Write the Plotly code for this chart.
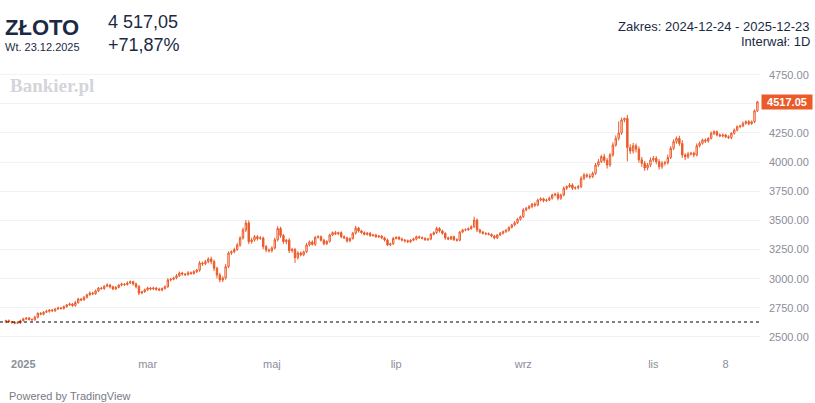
import pandas as pd
import plotly.graph_objects as go

# daily candles, 2024-12-24 .. 2025-12-23
base_price = 2628.3
closes = [
    2640, 2632, 2625, 2618, 2622, 2640, 2655, 2662, 2650, 2648,
    2670, 2703, 2695, 2712, 2720, 2731, 2725, 2740, 2748, 2745,
    2760, 2775, 2783, 2770, 2795, 2826, 2818, 2840, 2862, 2877,
    2870, 2895, 2920, 2915, 2935, 2946, 2930, 2912, 2925, 2945,
    2954, 2950, 2963, 2974, 2955, 2931, 2877, 2888, 2905, 2920,
    2912, 2920, 2910, 2903, 2915, 2931, 2989, 2995, 3006, 3025,
    3049, 3040, 3035, 3051, 3045, 3060, 3074, 3134, 3128, 3146,
    3169, 3146, 3090, 3032, 2989, 3006, 3103, 3220, 3231, 3250,
    3289, 3349, 3418, 3478, 3317, 3332, 3360, 3345, 3349, 3275,
    3246, 3240, 3263, 3334, 3430, 3370, 3317, 3330, 3240, 3250,
    3180, 3220, 3205, 3230, 3290, 3315, 3295, 3355, 3360, 3330,
    3300, 3320, 3375, 3395, 3385, 3395, 3360, 3350, 3325, 3345,
    3390, 3435, 3410, 3395, 3380, 3390, 3370, 3375, 3360, 3365,
    3350, 3332, 3290, 3300, 3345, 3355, 3340, 3332, 3325, 3317,
    3330, 3340, 3360, 3352, 3346, 3335, 3340, 3380, 3395, 3430,
    3410, 3389, 3350, 3340, 3360, 3335, 3330, 3400, 3418, 3420,
    3430, 3446, 3503, 3418, 3400, 3389, 3385, 3380, 3366, 3350,
    3375, 3390, 3403, 3415, 3440, 3461, 3480, 3510, 3532, 3590,
    3604, 3618, 3640, 3632, 3675, 3685, 3670, 3675, 3690, 3718,
    3724, 3690, 3718, 3776, 3790, 3804, 3776, 3780, 3790, 3861,
    3890, 3880, 3875, 3904, 3975, 4004, 4047, 4015, 3975, 4061,
    4147, 4204, 4250, 4362, 4376, 4125, 4095, 4140, 4112, 4020,
    3990, 3950, 3975, 4018, 4033, 4004, 3961, 3990, 3995, 4040,
    4119, 4176, 4204, 4160, 4061, 4045, 4070, 4076, 4061, 4140,
    4162, 4190, 4180, 4204, 4247, 4261, 4233, 4225, 4233, 4218,
    4210, 4247, 4275, 4304, 4310, 4333, 4347, 4330, 4347, 4440,
    4517.05,
]
wick_up = [
    8, 10, 6, 9, 12, 8, 10, 7, 11, 9,
    12, 8, 10, 9, 14, 7, 10, 8, 12, 9,
    10, 7, 12, 9, 15, 10, 8, 12, 9, 14,
    10, 12, 8, 11, 9, 15, 8, 10, 12, 9,
    11, 8, 14, 10, 9, 12, 15, 8, 10, 12,
    9, 11, 8, 13, 10, 12, 15, 9, 11, 14,
    12, 10, 9, 14, 11, 13, 10, 18, 12, 15,
    14, 20, 16, 12, 18, 15, 22, 14, 12, 16,
    18, 15, 20, 25, 22, 18, 15, 14, 16, 12,
    14, 12, 15, 18, 20, 16, 14, 12, 18, 15,
    14, 16, 12, 10, 15, 12, 14, 10, 12, 11,
    13, 9, 12, 10, 14, 8, 11, 12, 10, 9,
    12, 18, 10, 9, 11, 10, 12, 8, 10, 9,
    11, 10, 12, 9, 14, 8, 10, 12, 9, 11,
    8, 12, 10, 9, 11, 10, 9, 12, 10, 16,
    12, 10, 9, 11, 8, 10, 12, 9, 10, 11,
    10, 12, 29, 14, 11, 10, 9, 12, 8, 10,
    9, 11, 10, 12, 8, 10, 14, 12, 10, 15,
    12, 14, 10, 16, 12, 14, 10, 12, 15, 11,
    14, 18, 12, 15, 10, 16, 14, 12, 15, 18,
    16, 14, 20, 15, 18, 22, 16, 25, 20, 18,
    22, 25, 100, 20, 5, 30, 28, 25, 20, 22,
    25, 20, 18, 22, 20, 18, 22, 20, 16, 25,
    18, 20, 16, 22, 28, 15, 18, 12, 14, 20,
    15, 12, 14, 10, 16, 12, 10, 14, 12, 10,
    12, 10, 14, 12, 10, 16, 12, 14, 10, 12,
    8,
]
wick_dn = [
    10, 8, 12, 9, 7, 10, 8, 11, 9, 12,
    9, 11, 8, 10, 7, 12, 9, 10, 8, 11,
    10, 9, 8, 12, 10, 9, 11, 8, 10, 9,
    12, 8, 10, 9, 11, 8, 14, 10, 9, 8,
    10, 12, 9, 8, 14, 15, 18, 10, 9, 11,
    12, 10, 14, 9, 11, 8, 10, 12, 9, 11,
    10, 14, 12, 9, 13, 10, 12, 15, 18, 12,
    14, 22, 25, 30, 20, 18, 15, 12, 16, 14,
    12, 15, 14, 18, 20, 16, 14, 18, 12, 22,
    18, 15, 16, 12, 14, 20, 18, 22, 20, 18,
    45, 16, 14, 12, 10, 14, 12, 16, 10, 12,
    14, 12, 10, 9, 11, 12, 14, 10, 16, 12,
    10, 12, 14, 10, 9, 11, 12, 10, 9, 11,
    12, 14, 10, 12, 11, 9, 10, 12, 14, 10,
    11, 9, 12, 10, 9, 11, 12, 10, 9, 12,
    14, 12, 16, 10, 9, 11, 12, 9, 10, 11,
    9, 10, 12, 18, 14, 10, 12, 9, 11, 12,
    10, 9, 11, 10, 12, 9, 10, 11, 12, 10,
    12, 10, 14, 18, 11, 13, 15, 12, 10, 11,
    12, 18, 14, 12, 15, 11, 16, 12, 14, 12,
    14, 16, 18, 12, 14, 16, 12, 20, 30, 16,
    14, 15, 18, 16, 20, 120, 25, 22, 30, 25,
    30, 25, 20, 18, 16, 22, 25, 18, 20, 16,
    14, 16, 18, 20, 25, 28, 16, 14, 20, 12,
    14, 12, 16, 12, 10, 14, 12, 10, 14, 12,
    12, 14, 10, 12, 14, 10, 12, 14, 10, 12,
    10,
]

month_ticks = ["2025-01-01", "2025-03-03", "2025-05-01", "2025-07-01",
               "2025-09-01", "2025-11-03", "2025-12-08"]
month_labels = ["<b>2025</b>", "mar", "maj", "lip", "wrz", "lis", "8"]
price_ticks = [2500, 2750, 3000, 3250, 3500, 3750, 4000, 4250, 4500, 4750]

dates = pd.bdate_range("2024-12-24", periods=len(closes)).strftime("%Y-%m-%d").tolist()
opens = [base_price] + closes[:-1]
highs = [max(o, c) + w for o, c, w in zip(opens, closes, wick_up)]
lows = [min(o, c) - w for o, c, w in zip(opens, closes, wick_dn)]

ORANGE = "#eb5a29"
GRAY = "#8a8e99"
NAVY = "#1b2a44"

# 4500.00 sits under the last-price label, so its text is left empty
price_labels = ["" if v == 4500 else f"{v:.2f}" for v in price_ticks]

fig = go.Figure()
fig.add_trace(go.Candlestick(
    x=dates, open=opens, high=highs, low=lows, close=closes,
    increasing=dict(line=dict(color=ORANGE, width=1), fillcolor="white"),
    decreasing=dict(line=dict(color=ORANGE, width=1), fillcolor=ORANGE),
    whiskerwidth=0,
    hoverinfo="skip",
    showlegend=False,
))

# baseline: close before the range
fig.add_shape(type="line", xref="paper", x0=0, x1=1, yref="y", y0=base_price, y1=base_price,
              line=dict(color="black", width=1, dash="dot"))

# header
fig.add_annotation(text="<b>ZŁOTO</b>", xref="paper", yref="paper", x=0, y=1, xanchor="left", yanchor="middle",
                   xshift=3, yshift=-27 + 62, showarrow=False, font=dict(size=22, color=NAVY, family="Liberation Sans"))
fig.add_annotation(text="Wt. 23.12.2025", xref="paper", yref="paper", x=0, y=1, xanchor="left", yanchor="middle",
                   xshift=3, yshift=-47 + 62, showarrow=False, font=dict(size=11, color=NAVY, family="Liberation Sans"))
fig.add_annotation(text="4 517,05", xref="paper", yref="paper", x=0, y=1, xanchor="left", yanchor="middle",
                   xshift=106, yshift=-22 + 62, showarrow=False, font=dict(size=18, color=NAVY, family="Liberation Sans"))
fig.add_annotation(text="+71,87%", xref="paper", yref="paper", x=0, y=1, xanchor="left", yanchor="middle",
                   xshift=106, yshift=-45 + 62, showarrow=False, font=dict(size=18, color=NAVY, family="Liberation Sans"))
fig.add_annotation(text="Zakres: 2024-12-24 - 2025-12-23", xref="paper", yref="paper", x=1, y=1,
                   xanchor="right", yanchor="middle", xshift=55 - 3, yshift=-26 + 62, showarrow=False,
                   font=dict(size=13, color=NAVY, family="Liberation Sans"))
fig.add_annotation(text="Interwał: 1D", xref="paper", yref="paper", x=1, y=1,
                   xanchor="right", yanchor="middle", xshift=55 - 3, yshift=-41 + 62, showarrow=False,
                   font=dict(size=13, color=NAVY, family="Liberation Sans"))

# watermark
fig.add_annotation(text="<b>Bankier.pl</b>", xref="paper", yref="paper", x=0, y=1, xanchor="left", yanchor="middle",
                   xshift=8, yshift=-85 + 62, showarrow=False,
                   font=dict(size=19, color="#d3d5db", family="Liberation Serif"))

# last price label
fig.add_annotation(text="<b>4517.05</b>", xref="paper", yref="y", x=1, y=closes[-1], xanchor="left", yanchor="middle",
                   xshift=1, showarrow=False, bgcolor=ORANGE, width=50, height=14, borderpad=0,
                   font=dict(size=11, color="white", family="Liberation Sans"))

fig.add_annotation(text="Powered by TradingView", xref="paper", yref="paper", x=0, y=0, xanchor="left", yanchor="middle",
                   xshift=7, yshift=-(396 - 352), showarrow=False,
                   font=dict(size=11, color="#787b86", family="Liberation Sans"))

fig.update_layout(
    width=815, height=403,
    margin=dict(l=0, r=55, t=62, b=51),
    paper_bgcolor="white", plot_bgcolor="white",
    font=dict(family="Liberation Sans", size=11, color=GRAY),
    xaxis=dict(type="category", range=[-2.07, 260.9], rangeslider=dict(visible=False),
               tickvals=month_ticks, ticktext=month_labels, showgrid=False, zeroline=False,
               ticks="", ticklabelstandoff=4, tickfont=dict(size=11, color=GRAY)),
    yaxis=dict(side="right", range=[2371, 4859], tickvals=price_ticks,
               ticktext=price_labels, showgrid=True, gridcolor="#f0f2f6",
               zeroline=False, ticks="", ticklabelstandoff=8, tickfont=dict(size=11, color=GRAY)),
)

# the page's default body margin would push the chart off the window
fig.write_html("out.html", config={"displayModeBar": False},
               post_script="document.body.style.margin = '0';")
